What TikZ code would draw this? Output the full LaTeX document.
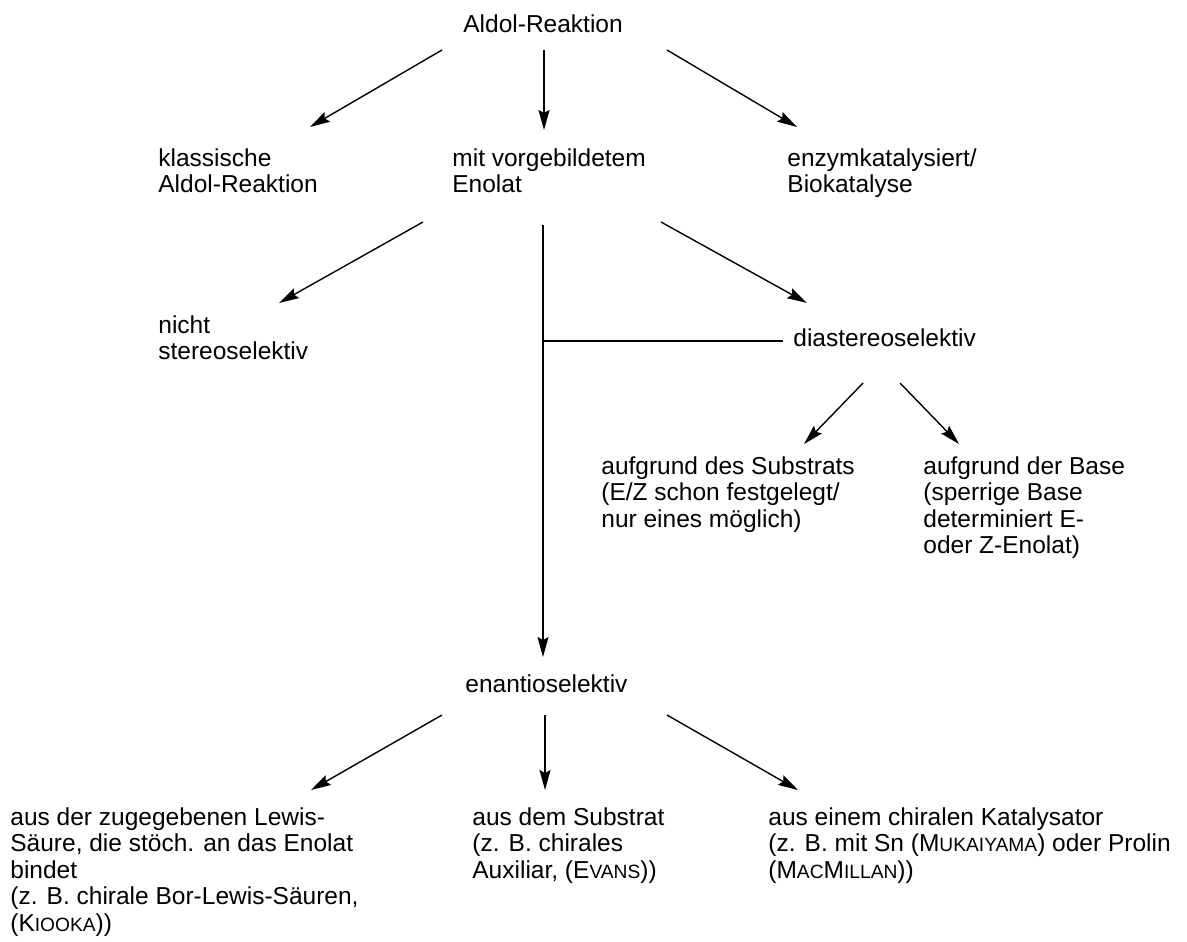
\documentclass[tikz,border=0pt]{standalone}
\usepackage{fontspec}
\setmainfont{Liberation Sans}
\usetikzlibrary{arrows.meta}
\newcommand\smc[1]{{\fontsize{9.6bp}{13.25bp}\selectfont #1}}
\begin{document}
\begin{tikzpicture}[x=0.5bp,y=-0.5bp,
  lbl/.style={font=\fontsize{12.25bp}{13.25bp}\selectfont, align=left, inner sep=0pt, anchor=north west, execute at begin node={\rule{0pt}{10bp}}},
  arr/.style={line width=0.7bp,-{Stealth[length=10bp,width=5.5bp,inset=1.5bp]}},
  ln/.style={line width=0.7bp}]
\useasboundingbox (0,0) rectangle (1187,941);
% nodes
\node[lbl] (aldol) at (463,12) {Aldol-Reaktion};
\node[lbl] (klass) at (158,148) {klassische\\Aldol-Reaktion};
\node[lbl] (mit) at (452,148) {mit vorgebildetem\\Enolat};
\node[lbl] (enzym) at (787,148) {enzymkatalysiert/\\Biokatalyse};
\node[lbl] (nicht) at (158,315) {nicht\\stereoselektiv};
\node[lbl] (dia) at (793,326) {diastereoselektiv};
\node[lbl] (subs) at (601,456) {aufgrund des Substrats\\(E/Z schon festgelegt/\\nur eines möglich)};
\node[lbl] (base) at (923,456) {aufgrund der Base\\(sperrige Base\\determiniert E-\\oder Z-Enolat)};
\node[lbl] (enan) at (465,672) {enantioselektiv};
\node[lbl] (bl) at (10,807) {aus der zugegebenen Lewis-\\Säure, die stöch. an das Enolat\\bindet\\(z. B. chirale Bor-Lewis-Säuren,\\(K\smc{IOOKA}))};
\node[lbl] (bm) at (472,807) {aus dem Substrat\\(z. B. chirales\\Auxiliar, (E\smc{VANS}))};
\node[lbl] (br) at (768,807) {aus einem chiralen Katalysator\\(z. B. mit Sn (M\smc{UKAIYAMA}) oder Prolin\\(M\smc{AC}M\smc{ILLAN}))};
% connector end points
\coordinate (a1s) at (442,50);  \coordinate (a1e) at (310,127);
\coordinate (a2s) at (544,50);  \coordinate (a2e) at (544,130);
\coordinate (a3s) at (667,50);  \coordinate (a3e) at (797,127);
\coordinate (a4s) at (423,222); \coordinate (a4e) at (279,303);
\coordinate (a5s) at (661,222); \coordinate (a5e) at (807,303);
\coordinate (vs) at (543,225);  \coordinate (ve) at (543,657);
\coordinate (hl) at (543,341);  \coordinate (hr) at (783,341);
\coordinate (a7s) at (863,383); \coordinate (a7e) at (804,444);
\coordinate (a8s) at (900,383); \coordinate (a8e) at (959,444);
\coordinate (a9s) at (442,715); \coordinate (a9e) at (311,790);
\coordinate (a10s) at (545,715); \coordinate (a10e) at (545,790);
\coordinate (a11s) at (667,715); \coordinate (a11e) at (798,790);
% connectors
\draw[arr] (a1s) -- (a1e);
\draw[arr] (a2s) -- (a2e);
\draw[arr] (a3s) -- (a3e);
\draw[arr] (a4s) -- (a4e);
\draw[arr] (a5s) -- (a5e);
\draw[arr] (vs) -- (ve);
\draw[ln] (hl) -- (hr);
\draw[arr] (a7s) -- (a7e);
\draw[arr] (a8s) -- (a8e);
\draw[arr] (a9s) -- (a9e);
\draw[arr] (a10s) -- (a10e);
\draw[arr] (a11s) -- (a11e);
\end{tikzpicture}
\end{document}
